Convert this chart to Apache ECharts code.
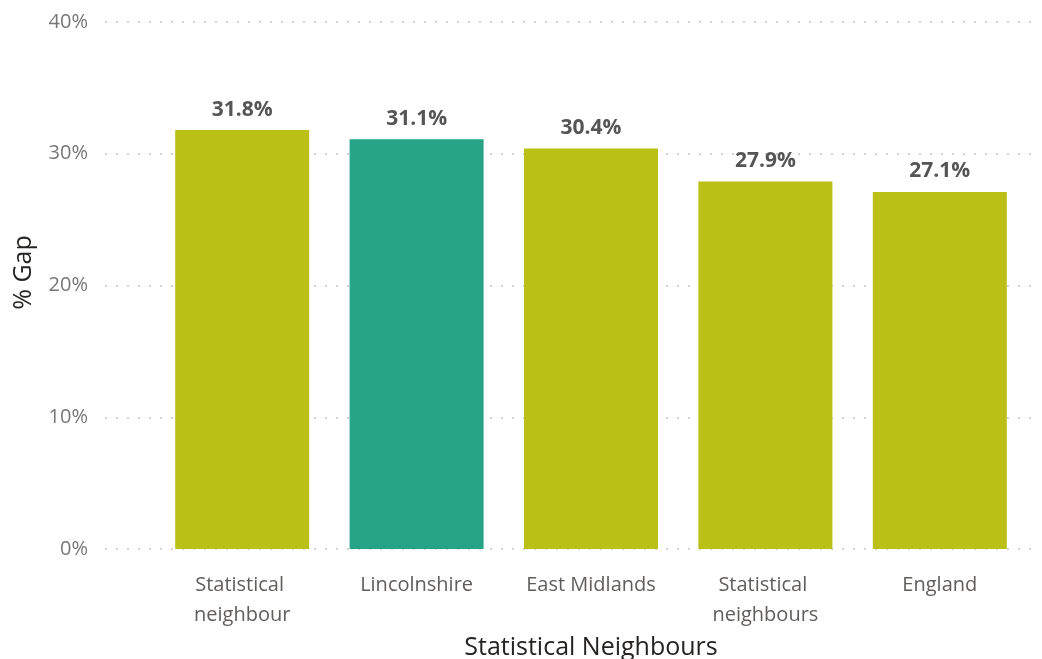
<!DOCTYPE html>
<html>
<head>
<meta charset="utf-8">
<script src="https://cdn.jsdelivr.net/npm/echarts@6/dist/echarts.min.js"></script>
<style>
  html, body { margin: 0; padding: 0; background: #fff; }
  #chart { width: 1042px; height: 659px; }
</style>
</head>
<body>
<div id="chart"></div>
<script>
// Pay gap by area, compared with statistical neighbours
const categories = ['Statistical neighbour', 'Lincolnshire', 'East Midlands', 'Statistical neighbours', 'England'];
const gapValues = [31.8, 31.1, 30.4, 27.9, 27.1];
const highlighted = ['Lincolnshire'];
const yTicks = [0, 10, 20, 30, 40];

const OLIVE = '#BAC016';
const TEAL = '#27A386';
const FONT = '"Open Sans", "Noto Sans", sans-serif';

const chart = echarts.init(document.getElementById('chart'));

chart.setOption({
  animation: false,
  textStyle: { fontFamily: FONT },
  grid: [
    // bars
    { left: 155, right: 15, top: 22, bottom: 110, containLabel: false, outerBoundsMode: 'none' },
    // wider grid used only for the dotted reference lines
    { left: 105, right: 10, top: 22, bottom: 110, containLabel: false, outerBoundsMode: 'none' }
  ],
  xAxis: [
    {
      type: 'category',
      gridIndex: 0,
      data: categories,
      name: 'Statistical Neighbours',
      nameLocation: 'middle',
      nameGap: 75,
      nameTextStyle: { fontSize: 25, color: '#252423', fontFamily: FONT },
      axisLine: { show: false },
      axisTick: { show: false },
      axisLabel: {
        interval: 0,
        margin: 21,
        fontSize: 20,
        color: '#605E5C',
        lineHeight: 30,
        width: 160,
        overflow: 'break',
        fontFamily: FONT
      }
    },
    {
      type: 'value',
      gridIndex: 1,
      show: false
    }
  ],
  yAxis: [
    {
      type: 'value',
      gridIndex: 0,
      min: yTicks[0],
      max: yTicks[yTicks.length - 1],
      interval: 10,
      axisLine: { show: false },
      axisTick: { show: false },
      axisLabel: { show: false },
      splitLine: { show: false }
    },
    {
      type: 'value',
      gridIndex: 1,
      min: yTicks[0],
      max: yTicks[yTicks.length - 1],
      interval: 10,
      name: '% Gap',
      nameLocation: 'middle',
      nameGap: 69,
      nameRotate: 90,
      nameTextStyle: { fontSize: 25, color: '#252423', fontFamily: FONT, padding: [0, 0, 0, 26] },
      axisLine: { show: false },
      axisTick: { show: false },
      axisLabel: {
        margin: 17,
        fontSize: 20,
        color: '#777777',
        fontFamily: FONT,
        formatter: v => v + '%'
      },
      splitLine: {
        show: true,
        lineStyle: { color: '#D2D2D2', width: 2, type: [2, 9] }
      }
    }
  ],
  series: [
    {
      type: 'bar',
      xAxisIndex: 0,
      yAxisIndex: 0,
      barWidth: 134,
      data: gapValues.map((v, i) => ({
        value: v,
        itemStyle: { color: highlighted.includes(categories[i]) ? TEAL : OLIVE }
      })),
      label: {
        show: true,
        position: 'top',
        distance: 10,
        fontSize: 21,
        fontWeight: 'bold',
        color: '#555555',
        fontFamily: FONT,
        formatter: p => p.value.toFixed(1) + '%'
      }
    }
  ]
});
</script>
</body>
</html>
